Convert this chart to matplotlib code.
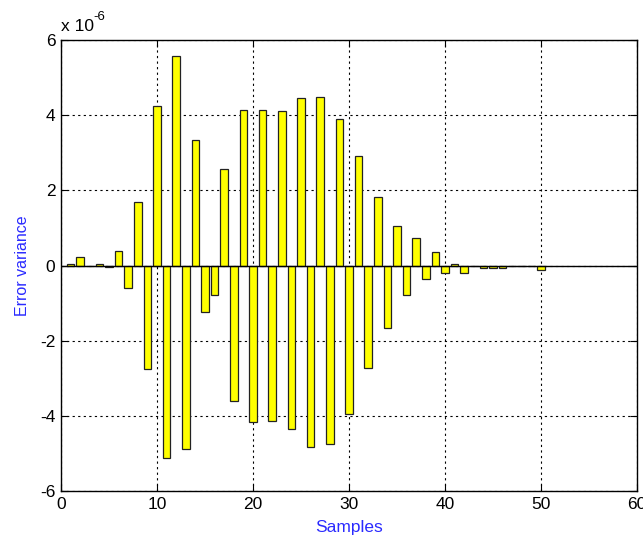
import matplotlib
matplotlib.use("Agg")
import matplotlib.pyplot as plt
import numpy as np

samples = list(range(1, 51))
# error variance values in units of 1e-6
error_variance = [
    0.03, 0.23, 0.0, 0.03, -0.03, 0.38, -0.61, 1.68, -2.76, 4.24,
    -5.12, 5.58, -4.87, 3.33, -1.25, -0.78, 2.56, -3.61, 4.14, -4.17,
    4.14, -4.13, 4.10, -4.34, 4.46, -4.83, 4.49, -4.75, 3.89, -3.95,
    2.91, -2.72, 1.82, -1.67, 1.04, -0.78, 0.73, -0.37, 0.35, -0.20,
    0.03, -0.20, -0.02, -0.06, -0.06, -0.06, -0.02, -0.02, 0.0, -0.12,
]
x_ticks = [0, 10, 20, 30, 40, 50, 60]
y_ticks = [-6, -4, -2, 0, 2, 4, 6]
y_tick_labels = ["-6", "-4", "-2", "0", "2", "4", "6"]

plt.rcParams['font.family'] = ['Liberation Sans', 'DejaVu Sans']

fig = plt.figure(figsize=(6.43, 5.40), dpi=100)
fig.patch.set_facecolor('white')
ax = fig.add_axes([61/643, 1 - 491/540, (637-61)/643, (491-40)/540])

ax.bar(samples, error_variance, width=0.8, color='#FFFF00',
       edgecolor='#222222', linewidth=0.9, zorder=3)
ax.axhline(0, color='black', linewidth=1.0, zorder=4)

ax.set_xlim(0, 60)
ax.set_ylim(-6, 6)
ax.set_xticks(x_ticks)
ax.set_yticks(y_ticks)
ax.set_yticklabels(y_tick_labels)
ax.tick_params(direction='in', top=True, right=True, length=5,
               labelsize=12.5, colors='black', pad=4)
ax.grid(True, color='black', linestyle=(0, (2, 3)), linewidth=0.8, zorder=1)
ax.set_axisbelow(True)
for s in ax.spines.values():
    s.set_color('black')
    s.set_linewidth(1.0)

ax.set_xlabel('Samples', color='#2A2AFF', fontsize=12.5, labelpad=6)
ax.set_ylabel('Error variance', color='#2A2AFF', fontsize=11.5, labelpad=7)

ax.text(0.0, 1.014, 'x 10', transform=ax.transAxes,
        fontsize=12.5, ha='left', va='bottom')
ax.text(0.056, 1.038, '-6', transform=ax.transAxes,
        fontsize=9.5, ha='left', va='bottom')

fig.savefig('out.png', dpi=100, facecolor='white')
